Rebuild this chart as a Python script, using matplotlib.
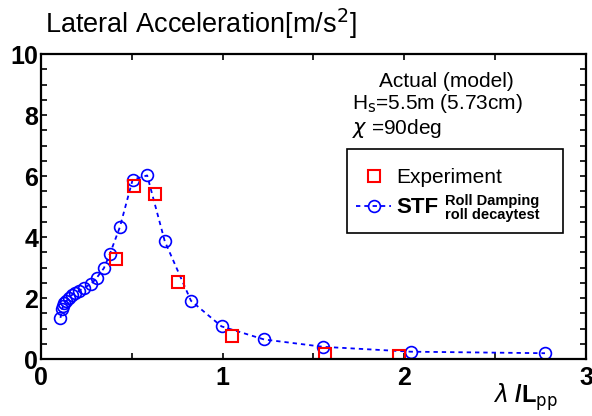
import matplotlib.pyplot as plt
from matplotlib.patches import Rectangle
from matplotlib.ticker import MultipleLocator

plt.rcParams['font.family'] = ['Liberation Sans', 'DejaVu Sans']

# STF (roll damping from roll decay test)
stf_x = [0.108, 0.117, 0.123, 0.130, 0.141, 0.154, 0.169, 0.187, 0.211, 0.237,
         0.275, 0.307, 0.347, 0.380, 0.435, 0.505, 0.585, 0.682, 0.826, 0.994,
         1.229, 1.554, 2.036, 2.774]
stf_y = [1.35, 1.63, 1.75, 1.83, 1.91, 2.00, 2.09, 2.17, 2.24, 2.34,
         2.45, 2.66, 2.98, 3.45, 4.33, 5.88, 6.02, 3.86, 1.91, 1.07,
         0.64, 0.40, 0.24, 0.19]

# Experiment
exp_x = [0.413, 0.514, 0.627, 0.752, 1.053, 1.563, 1.970]
exp_y = [3.28, 5.67, 5.40, 2.51, 0.75, 0.17, 0.09]

fig = plt.figure(figsize=(5.92, 4.16), dpi=100)
ax = fig.add_axes([0.069, 0.137, 0.921, 0.733])

stf_line, = ax.plot(stf_x, stf_y, color='blue', linestyle=(0, (2.4, 2.2)), linewidth=1.3,
                    marker='o', markersize=8.5, markerfacecolor='none',
                    markeredgecolor='blue', markeredgewidth=1.2)
exp_line, = ax.plot(exp_x, exp_y, linestyle='none', marker='s', markersize=9,
                    markerfacecolor='none', markeredgecolor='red', markeredgewidth=1.5)

ax.set_xlim(0, 3)
ax.set_ylim(0, 10)
ax.xaxis.set_major_locator(MultipleLocator(1))
ax.xaxis.set_minor_locator(MultipleLocator(0.5))
ax.yaxis.set_major_locator(MultipleLocator(2))
ax.yaxis.set_minor_locator(MultipleLocator(0.5))
ax.tick_params(which='both', direction='in', top=True, right=True, width=1.2, length=4)
ax.tick_params(which='major', labelsize=18)
ax.tick_params(axis='x', which='major', pad=5)
ax.tick_params(axis='y', which='major', pad=2)
for lab in ax.get_xticklabels() + ax.get_yticklabels():
    lab.set_fontweight('bold')
for sp in ax.spines.values():
    sp.set_linewidth(1.6)

fig.text(0.076, 0.942, 'Lateral Acceleration[m/s$^2$]', fontsize=19.5,
         ha='left', va='center')
fig.text(0.833, 0.045, r'$\lambda$ /L$_{\mathrm{pp}}$', fontsize=17,
         fontweight='bold', ha='left', va='center')

ax.text(0.744, 0.911, 'Actual (model)', transform=ax.transAxes, fontsize=15,
        ha='center', va='center')
ax.text(0.727, 0.839, 'H$_{\\mathrm{s}}$=5.5m (5.73cm)', transform=ax.transAxes,
        fontsize=15, ha='center', va='center')
ax.text(0.571, 0.757, r'$\chi$ =90deg', transform=ax.transAxes, fontsize=15,
        ha='left', va='center')

# legend: frame drawn separately so the small two-line note fits inside
ax.add_patch(Rectangle((0.561, 0.413), 0.397, 0.276, transform=ax.transAxes,
                       fill=False, edgecolor='black', linewidth=1.2, zorder=6))
leg = ax.legend([exp_line, stf_line], ['Experiment', 'STF'], loc='upper left',
                bbox_to_anchor=(0.578, 0.625), frameon=False, fontsize=15,
                handlelength=1.7, labelspacing=0.45, borderpad=0,
                borderaxespad=0, handletextpad=0.25)
leg.get_texts()[1].set_fontsize(16)
leg.get_texts()[1].set_fontweight('bold')
ax.text(0.828, 0.496, 'Roll Damping\nroll decaytest', transform=ax.transAxes,
        fontsize=10.5, fontweight='bold', ha='center', va='center',
        linespacing=1.0, zorder=7)

fig.savefig('out.png', dpi=100)
